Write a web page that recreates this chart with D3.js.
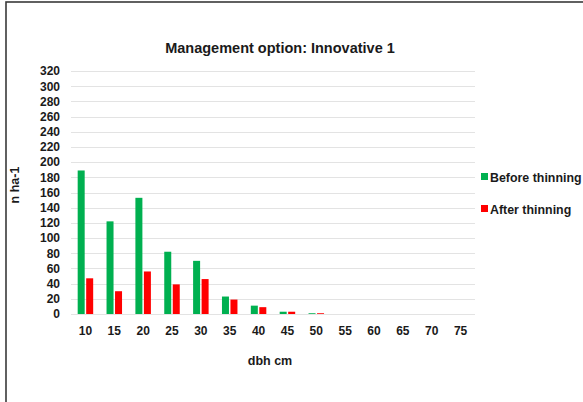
<!DOCTYPE html>
<html><head><meta charset="utf-8">
<script src="https://cdn.jsdelivr.net/npm/d3@7"></script>
<style>body{margin:0;background:#fff}svg{display:block}</style>
</head><body>
<svg id="c" width="583" height="402"></svg>
<script>
const categories = ["10","15","20","25","30","35","40","45","50","55","60","65","70","75"];
const beforeThinning = [189,122,153,82,70,23,11,3,1,0,0,0,0,0];
const afterThinning  = [47,30,56,39,46,19,9,3,1,0,0,0,0,0];
const yTicks = d3.range(0, 321, 20);
const seriesNames = ["Before thinning","After thinning"];
const colors = ["#00b050","#ff0000"];

const svg = d3.select("#c");
const font = "Arial, 'Liberation Sans', sans-serif";
// outer frame
svg.append("rect").attr("x",6).attr("y",2).attr("width",600).attr("height",420)
  .attr("fill","none").attr("stroke","#3a3a3a").attr("stroke-width",1.6);

const L=71, R=475, T=71, B=314;
const x = d3.scaleBand().domain(categories).range([L,R]).padding(0);
const y = d3.scaleLinear().domain([0,320]).range([B,T]);

// gridlines
svg.append("g").selectAll("line").data(yTicks).join("line")
  .attr("x1",L).attr("x2",R).attr("y1",d=>Math.round(y(d))+0.5).attr("y2",d=>Math.round(y(d))+0.5)
  .attr("stroke","#e3e3e3").attr("stroke-width",1);

// y axis
const ya = svg.append("g").attr("transform",`translate(${L},0)`)
  .call(d3.axisLeft(y).tickValues(yTicks).tickSize(0).tickPadding(11));
ya.select(".domain").remove();
ya.selectAll("text").attr("font-family",font).attr("font-size",12).attr("font-weight","bold").attr("fill","#1a1a1a");

// x axis
const xa = svg.append("g").attr("transform",`translate(0,${B})`)
  .call(d3.axisBottom(x).tickSize(0).tickPadding(12));
xa.select(".domain").remove();
xa.selectAll("text").attr("font-family",font).attr("font-size",12).attr("font-weight","bold").attr("fill","#1a1a1a");

// bars
const bw = 7, gap = 1.5;
const series = [beforeThinning, afterThinning];
series.forEach((vals,i)=>{
  svg.append("g").selectAll("rect").data(vals).join("rect")
    .attr("x",(d,j)=>x(categories[j]) + x.bandwidth()/2 + (i===0 ? -bw-gap/2 : gap/2))
    .attr("y",d=>y(d)).attr("width",bw).attr("height",d=>B-y(d))
    .attr("fill",colors[i]);
});

// title
svg.append("text").attr("x",280).attr("y",53).attr("text-anchor","middle")
  .attr("font-family",font).attr("font-size",14.5).attr("font-weight","bold").attr("fill","#1a1a1a")
  .text("Management option: Innovative 1");

// axis titles
svg.append("text").attr("x",270).attr("y",365).attr("text-anchor","middle")
  .attr("font-family",font).attr("font-size",12.5).attr("font-weight","bold").attr("fill","#1a1a1a")
  .text("dbh cm");
svg.append("text").attr("transform","translate(19,185) rotate(-90)").attr("text-anchor","middle")
  .attr("font-family",font).attr("font-size",12.5).attr("font-weight","bold").attr("fill","#1a1a1a")
  .text("n ha-1");

// legend
const leg = svg.append("g");
seriesNames.forEach((n,i)=>{
  const ly = 177 + i*32;
  leg.append("rect").attr("x",481).attr("y",ly-4).attr("width",7).attr("height",7).attr("fill",colors[i]);
  leg.append("text").attr("x",490).attr("y",ly+4.5).attr("font-family",font).attr("font-size",12.4)
    .attr("font-weight","bold").attr("fill","#1a1a1a").text(n);
});
</script>
</body></html>
